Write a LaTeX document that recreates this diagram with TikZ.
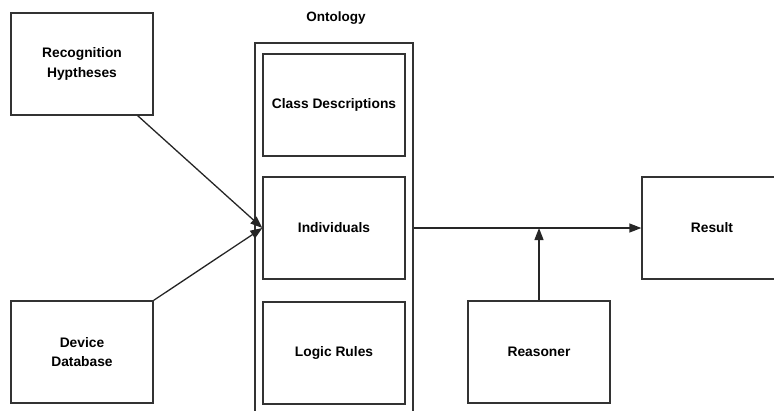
\documentclass[tikz,border=0pt]{standalone}
\usepackage{fontspec}
\setmainfont{Liberation Sans}
\usetikzlibrary{arrows.meta,calc}
\begin{document}
\begin{tikzpicture}[x=1pt,y=-1pt,
  box/.style={draw=black!80,line width=1.3pt,rectangle,minimum width=142pt,minimum height=102pt,inner sep=0pt,align=center,font=\fontsize{13.8}{19.5}\selectfont\bfseries},
  txt/.style={font=\fontsize{13.5}{16}\selectfont\bfseries,inner sep=0pt},
  conn/.style={draw=black!85,line width=1.3pt},
  arr/.style={conn,-{Triangle[length=12pt,width=9pt]}}]
\useasboundingbox (0,0) rectangle (774,410);
\clip (0,0) rectangle (774,410);
\node[box,minimum width=158pt,minimum height=378pt] (ont) at (334,232) {};
\node[txt] (ontlabel) at (336,18) {Ontology};
\node[box] (rec) at (82,64) {Recognition\\Hyptheses};
\node[box] (dev) at (82,352) {Device\\Database};
\node[box] (cls) at (334,105) {Class Descriptions};
\node[box] (ind) at (334,228) {Individuals};
\node[box] (log) at (334,353) {Logic Rules};
\node[box,minimum width=140pt] (res) at (712,228) {Result};
\node[box] (rea) at (539,352) {Reasoner};
\coordinate (join) at (rea.north |- ind.east);
\draw[arr] ($(rec.south east)+(-16,0)$) -- (ind.west);
\draw[arr] (dev.north east) -- (ind.west);
\draw[arr] (ont.east |- ind.east) -- (res.west);
\draw[arr] (rea.north) -- (join);
\end{tikzpicture}
\end{document}
